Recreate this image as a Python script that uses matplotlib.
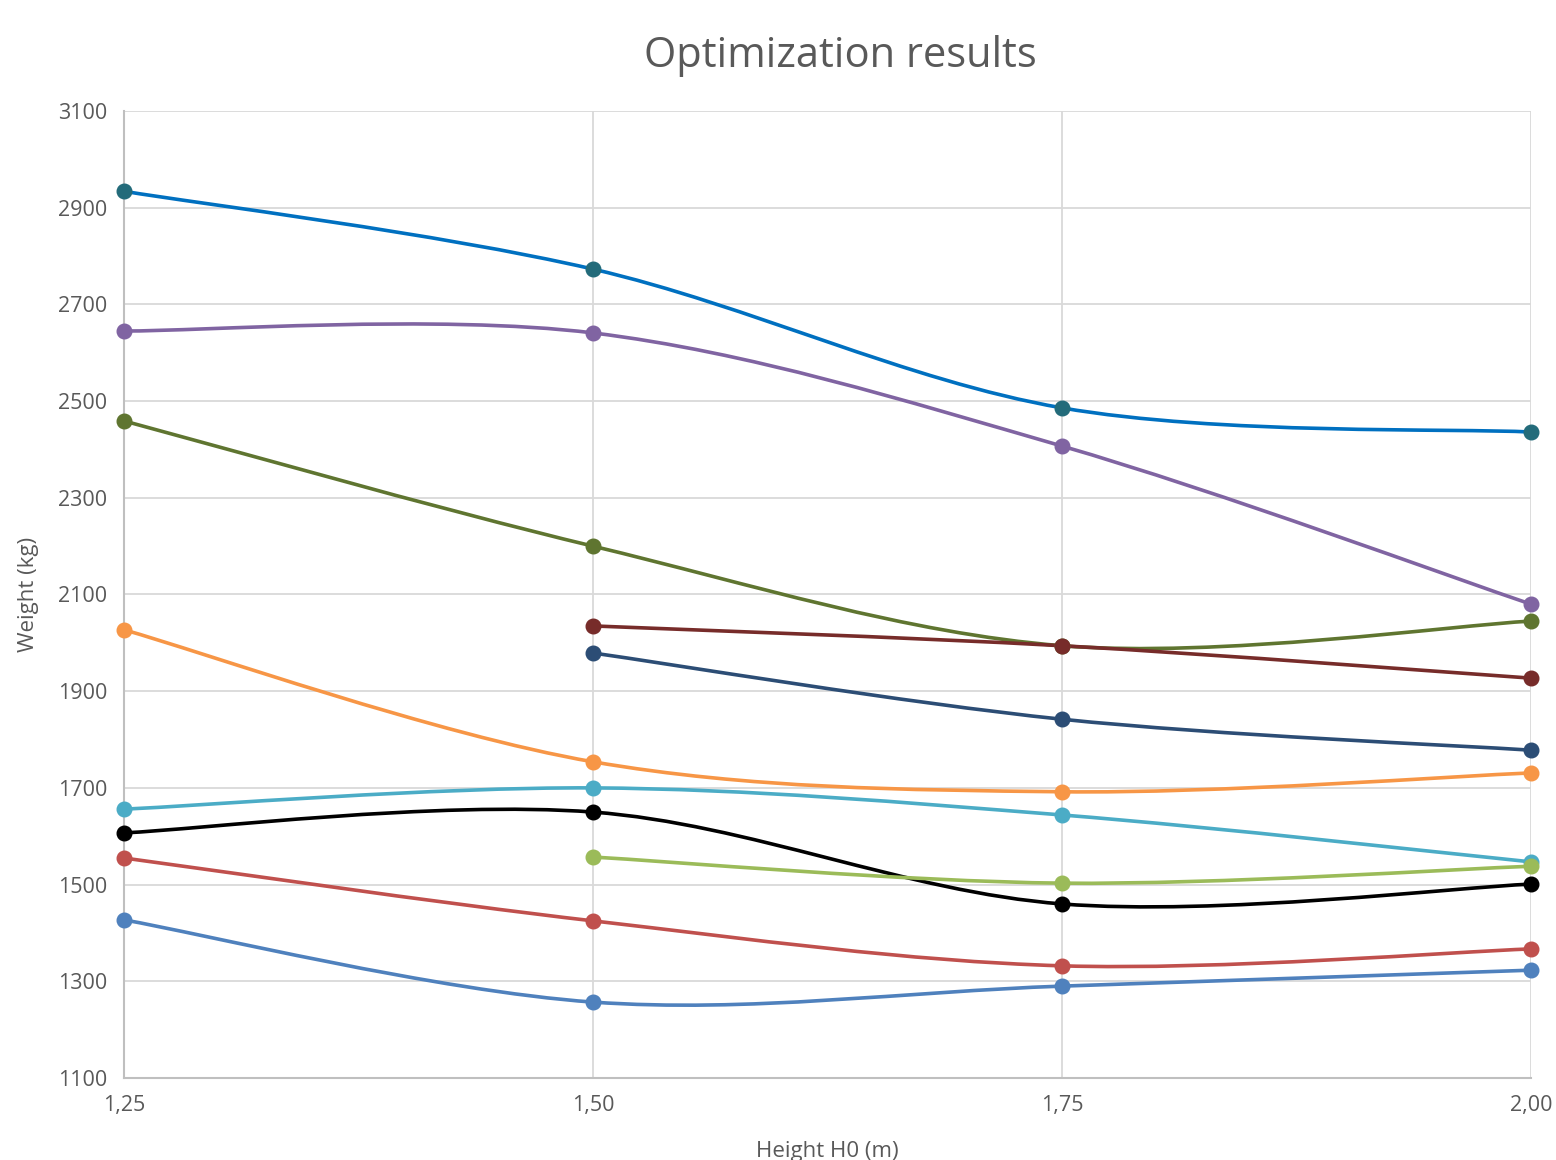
import matplotlib
matplotlib.use('Agg')
import matplotlib.pyplot as plt
from matplotlib.path import Path
from matplotlib.patches import PathPatch

plt.rcParams['font.family'] = ['Open Sans', 'DejaVu Sans']

# data
heights = [1.25, 1.50, 1.75, 2.00]
xtick_labels = ['1,25', '1,50', '1,75', '2,00']

s_blue = [2934, 2773, 2486, 2436]
s_purple = [2645, 2641, 2407, 2080]
s_olive = [2459, 2200, 1994, 2045]
s_darkred = [None, 2035, 1994, 1927]
s_navy = [None, 1979, 1842, 1778]
s_orange = [2027, 1754, 1692, 1731]
s_cyan = [1656, 1700, 1644, 1547]
s_black = [1607, 1650, 1460, 1501]
s_lgreen = [None, 1557, 1503, 1538]
s_red = [1555, 1425, 1332, 1367]
s_steel = [1427, 1257, 1290, 1323]

# (values, line colour, marker colour)
series = [
    (s_blue, '#0070C0', '#236B7A'),
    (s_purple, '#8064A2', '#8064A2'),
    (s_olive, '#5F7530', '#5F7530'),
    (s_darkred, '#772C2A', '#772C2A'),
    (s_navy, '#2C4D75', '#2C4D75'),
    (s_orange, '#F79646', '#F79646'),
    (s_cyan, '#4BACC6', '#4BACC6'),
    (s_black, '#000000', '#000000'),
    (s_lgreen, '#9BBB59', '#9BBB59'),
    (s_red, '#C0504D', '#C0504D'),
    (s_steel, '#4F81BD', '#4F81BD'),
]


def smooth_path(xs, ys):
    """bezier path like excel's smoothed line"""
    pts = list(zip(xs, ys))
    verts = [pts[0]]
    codes = [Path.MOVETO]
    n = len(pts)
    for i in range(n - 1):
        p0 = pts[i - 1] if i > 0 else pts[i]
        p1 = pts[i]
        p2 = pts[i + 1]
        p3 = pts[i + 2] if i + 2 < n else pts[i + 1]
        c1 = (p1[0] + (p2[0] - p0[0]) / 6, p1[1] + (p2[1] - p0[1]) / 6)
        c2 = (p2[0] - (p3[0] - p1[0]) / 6, p2[1] - (p3[1] - p1[1]) / 6)
        verts += [c1, c2, p2]
        codes += [Path.CURVE4] * 3
    return Path(verts, codes)


fig = plt.figure(figsize=(15.56, 11.6), dpi=100)
ax = fig.add_axes([124 / 1556, 82 / 1160, 1407 / 1556, 967 / 1160])

for vals, lc, mc in series:
    xs = [h for h, v in zip(heights, vals) if v is not None]
    ys = [v for v in vals if v is not None]
    patch = PathPatch(smooth_path(xs, ys), facecolor='none', edgecolor=lc,
                      lw=2.6, zorder=3, capstyle='round')
    ax.add_patch(patch)
    ax.plot(xs, ys, 'o', color=mc, markersize=10.5, zorder=4, clip_on=False)

ax.set_xlim(1.25, 2.00)
ax.set_ylim(1100, 3100)
ax.set_xticks(heights)
ax.set_xticklabels(xtick_labels)
ax.set_yticks(range(1100, 3101, 200))
ax.grid(True, color='#D9D9D9', lw=1.3, zorder=0)
ax.set_axisbelow(True)
for sp in ['top', 'right']:
    ax.spines[sp].set_visible(False)
for sp in ['left', 'bottom']:
    ax.spines[sp].set_color('#BFBFBF')
    ax.spines[sp].set_linewidth(1.5)
ax.tick_params(axis='both', length=0, colors='#595959', labelsize=15.5, pad=12)

ax.set_title('Optimization results', fontsize=30, color='#595959', pad=32, x=0.509)
ax.set_xlabel('Height H0 (m)', fontsize=16, color='#595959', labelpad=18)
ax.set_ylabel('Weight (kg)', fontsize=16, color='#595959', labelpad=14)

fig.savefig('out.png', dpi=100)
